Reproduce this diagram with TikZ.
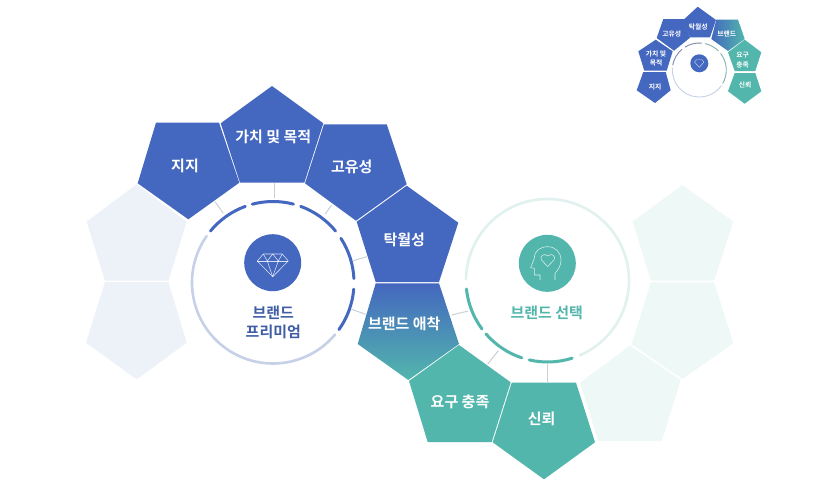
\documentclass[tikz,border=0pt]{standalone}
\usepackage{fontspec}
\setmainfont{Noto Sans CJK KR}[BoldFont={Noto Sans CJK KR Bold}]
\definecolor{blu}{HTML}{4467BF}
\definecolor{tea}{HTML}{52B6AC}
\definecolor{ghl}{HTML}{EDF1F8}
\definecolor{ghr}{HTML}{EEF8F6}
\definecolor{rl}{HTML}{C6D0E7}
\definecolor{rr}{HTML}{E1F1EF}
\definecolor{conn}{HTML}{C9D0D8}
\definecolor{txb}{HTML}{3F5EA6}
\definecolor{tbd}{HTML}{7C88AC}
\definecolor{tbt}{HTML}{86ADAE}
\newcommand{\arcseg}[5]{\draw[#1] (#2) ++(#3:#5pt) arc[start angle=#3,end angle=#4,radius=#5pt];}
\tikzset{
  x=1pt,y=-1pt,
  big/.style={text=white,font=\bfseries\fontsize{15}{18}\selectfont,inner sep=0pt,align=center},
  small/.style={text=white,font=\bfseries\fontsize{6.8}{9.5}\selectfont,inner sep=0pt,align=center},
  midtext/.style={font=\bfseries\fontsize{15}{19}\selectfont,inner sep=0pt,align=center},
  linkline/.style={draw=conn,line width=1pt},
  ringlight/.style={line width=2.6pt,line cap=round},
  ringdark/.style={line width=3pt,line cap=round},
  thumbring/.style={line width=0.9pt},
  icon/.style={draw=white,line width=0.55pt,opacity=0.8,line join=round}
}
\begin{document}
\begin{tikzpicture}
\useasboundingbox (0,0) rectangle (817,493);
\fill[white] (0,0) rectangle (817,493);
% ghost pentagons
\fill[ghl] (136.7,184.3)--(186.7,221.7)--(168.3,280.7)--(105,280.7)--(86.7,221.7)--cycle;
\fill[ghl] (105,282)--(168.3,282)--(186.7,342.7)--(136.7,379.3)--(86,342.7)--cycle;
\fill[ghr] (580,382.7)--(630,345.7)--(680.7,380)--(661.7,441)--(598.3,441)--cycle;
\fill[ghr] (631.7,344.3)--(651,282.3)--(714,282.3)--(733.3,343.3)--(682.3,379)--cycle;
\fill[ghr] (682.3,185)--(733.3,221.7)--(714,280.7)--(651,280.7)--(632.7,221.7)--cycle;
% main pentagons
\fill[blu] (156,122.7)--(219,122.7)--(239.3,182.7)--(188.3,219.3)--(137.7,183.3)--cycle;
\fill[blu] (272,86)--(323.3,123.3)--(304.3,182.7)--(240,182.7)--(220.7,123.3)--cycle;
\fill[blu] (324,124.3)--(386.7,124.3)--(406.7,184.3)--(356,220.7)--(305,183.3)--cycle;
\fill[blu] (406.7,185.7)--(458.3,222.7)--(439,282)--(375.7,282)--(356.7,221.7)--cycle;
\path[top color=blu,bottom color=tea] (375.7,283.3)--(439,283.3)--(459,344)--(408.3,380)--(357.7,344)--cycle;
\fill[tea] (459,345)--(510.7,382.3)--(491.7,442)--(427.7,442)--(409,381)--cycle;
\fill[tea] (511.7,382.7)--(576,382.7)--(595,442.3)--(544,479.3)--(492.7,442.3)--cycle;
% labels
\node[big] (n1) at (185,166) {지지};
\node[big] (n2) at (273.3,136.7) {가치 및 목적};
\node[big] (n3) at (351.7,166.7) {고유성};
\node[big] (n4) at (404.3,240) {탁월성};
\node[big] (n5) at (404.3,324) {브랜드 애착};
\node[big] (n6) at (460,401.7) {요구 충족};
\node[big] (n7) at (541.7,419.3) {신뢰};
% left ring
\coordinate (cl) at (273,282.5);
\coordinate (cr) at (547.5,280.5);
\arcseg{ringlight,draw=rl}{cl}{145}{320}{81}
\arcseg{ringdark,draw=blu}{cl}{140.6}{110}{81}
\arcseg{ringdark,draw=blu}{cl}{104.8}{75.4}{81}
\arcseg{ringdark,draw=blu}{cl}{70}{39.4}{81}
\arcseg{ringdark,draw=blu}{cl}{33}{2.8}{81}
\arcseg{ringdark,draw=blu}{cl}{-4.7}{-35.5}{81}
% right ring
\arcseg{ringlight,draw=rr}{cr}{179}{-66.6}{81.5}
\arcseg{ringdark,draw=tea}{cr}{186}{216.5}{81.5}
\arcseg{ringdark,draw=tea}{cr}{221}{251.6}{81.5}
\arcseg{ringdark,draw=tea}{cr}{257}{287.6}{81.5}
% connectors
\coordinate (a1) at (215,201.7); \coordinate (b1) at (223.3,213.3);
\coordinate (a2) at (274,183.3); \coordinate (b2) at (274,198.3);
\coordinate (a3) at (331.7,205); \coordinate (b3) at (325,214.3);
\coordinate (a4) at (366.7,256.7); \coordinate (b4) at (353.3,260.7);
\coordinate (a5) at (351.7,309.3); \coordinate (b5) at (365.7,314.3);
\coordinate (a6) at (451.7,315); \coordinate (b6) at (468.3,311);
\coordinate (a7) at (498.3,350.7); \coordinate (b7) at (487.7,364);
\coordinate (a8) at (547.7,363.3); \coordinate (b8) at (547.7,382);
\foreach \i in {1,...,8} {\draw[linkline] (a\i) -- (b\i);}
% left centre
\node[circle,fill=blu,minimum size=57pt,inner sep=0pt] (ic1) at (272.7,262.7) {};
\draw[icon] (257.3,261)--(263.3,254)--(282.3,254)--(288.3,261)--(272.7,276.7)--cycle;
\draw[icon] (257.3,261)--(288.3,261);
\draw[icon] (263.3,254)--(267.3,261)--(272.7,254)--(278.3,261)--(282.3,254);
\draw[icon] (267.3,261)--(272.7,276.7)--(278.3,261);
\node[midtext,text=txb] (t1) at (273.3,322) {브랜드\\프리미엄};
% right centre
\node[circle,fill=tea,minimum size=57pt,inner sep=0pt] (ic2) at (547.3,263.3) {};
\draw[icon] (555,280)--(555,273.3) .. controls (558,270) and (561,266) .. (561,260)
  .. controls (561,252) and (555,246.7) .. (547.7,246.7)
  .. controls (540,246.7) and (534.3,251) .. (534.3,258.3)
  --(530.7,267.7)--(534.3,268.3)--(534.3,275)--(540,275)--(540,280);
\draw[icon] (547.7,266.5) -- (541.5,260) .. controls (539,256) and (544.5,252.5) .. (547.7,256)
  .. controls (551,252.5) and (556.5,256) .. (554,260) -- cycle;
\node[midtext,text=tea] (t2) at (546.7,313.3) {브랜드 선택};
% thumbnail
\fill[blu] (643.3,72)--(665.7,72)--(670.7,90.3)--(655,103)--(636.7,90.3)--cycle;
\fill[blu] (655.7,39.7)--(672.7,51.3)--(666.7,70.7)--(644.3,70.7)--(638.3,51.3)--cycle;
\fill[blu] (663.3,19)--(684,19)--(690,37.7)--(674,50.7)--(656.7,38)--cycle;
\fill[blu] (697.7,6.7)--(716,20)--(710,37.3)--(690,37.3)--(683.3,20)--cycle;
\path[left color=blu,right color=tea] (716.3,19.7)--(738,19.7)--(744.7,39)--(728,51)--(711.3,39)--cycle;
\fill[tea] (744.7,39.7)--(761.3,52.3)--(755.3,71)--(734.7,71)--(728,52.3)--cycle;
\fill[tea] (734.7,73)--(755.3,73)--(761.3,91.3)--(744.7,103.7)--(728,91.3)--cycle;
\node[small] (s1) at (655,87.3) {지지};
\node[small] (s2) at (656,58.3) {가치 및\\목적};
\node[small] (s3) at (671.7,34.3) {고유성};
\node[small] (s4) at (698.3,26.7) {탁월성};
\node[small] (s5) at (726.7,34.3) {브랜드};
\node[small] (s6) at (742.7,60) {요구\\충족};
\node[small] (s7) at (745,85) {신뢰};
\coordinate (ct) at (699.3,70);
\arcseg{thumbring,draw=rl}{ct}{175}{325}{27}
\arcseg{thumbring,draw=tbd}{ct}{170}{130}{27}
\arcseg{thumbring,draw=tbd}{ct}{122}{85}{27}
\arcseg{thumbring,draw=tbt}{ct}{78}{45}{27}
\arcseg{thumbring,draw=tbt}{ct}{38}{-30}{27}
\node[circle,fill=blu,minimum size=18pt,inner sep=0pt] (ic3) at (699.3,63.3) {};
\draw[icon,line width=0.4pt] (694.5,62)--(696.5,59.7)--(702,59.7)--(704,62)--(699.3,67.3)--cycle;
\end{tikzpicture}
\end{document}
